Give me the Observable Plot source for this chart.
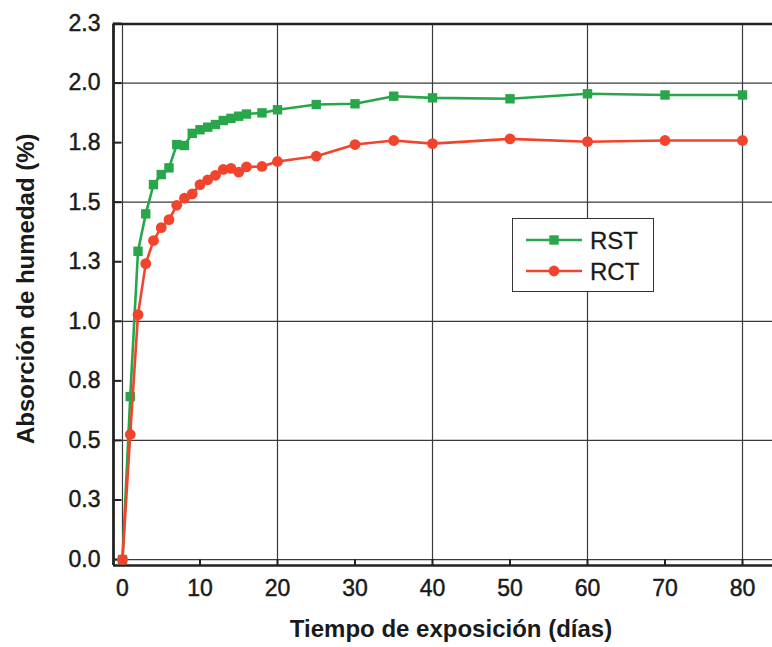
<!DOCTYPE html>
<html>
<head>
<meta charset="utf-8">
<script src="https://cdn.jsdelivr.net/npm/d3@7"></script>
<script src="https://cdn.jsdelivr.net/npm/@observablehq/plot@0.6"></script>
<style>
  html, body { margin: 0; padding: 0; background: #fff; }
  #wrap { position: relative; width: 772px; height: 647px; overflow: hidden; font-family: "Liberation Sans", Arial, sans-serif; }
  #legend { position: absolute; left: 512px; top: 218px; width: 142px; height: 74px; border: 1.5px solid #333; background: #fff; box-sizing: border-box; }
  g[aria-label="x-axis tick label"] text, g[aria-label="y-axis tick label"] text { stroke: #1a1a1a; stroke-width: 0.45px; }
  #legend text { stroke: #1a1a1a; stroke-width: 0.3px; }
</style>
</head>
<body>
<div id="wrap"></div>
<script>
// ---- data ----
const days = [0, 1, 2, 3, 4, 5, 6, 7, 8, 9, 10, 11, 12, 13, 14, 15, 16, 18, 20, 25, 30, 35, 40, 50, 60, 70, 80];
const rst  = [0, 0.684, 1.294, 1.451, 1.574, 1.616, 1.644, 1.742, 1.738, 1.789, 1.804, 1.815, 1.826, 1.843, 1.852, 1.861, 1.870, 1.875, 1.888, 1.910, 1.913, 1.945, 1.938, 1.934, 1.955, 1.950, 1.950];
const rct  = [0, 0.525, 1.028, 1.242, 1.339, 1.393, 1.427, 1.487, 1.517, 1.535, 1.574, 1.594, 1.613, 1.638, 1.642, 1.626, 1.648, 1.650, 1.671, 1.693, 1.742, 1.759, 1.746, 1.766, 1.754, 1.759, 1.759];
const seriesNames = ["RST", "RCT"];
const xTicks = [0, 10, 20, 30, 40, 50, 60, 70, 80];
const xGrid = [0, 20, 40, 60, 80];
const yTicks = [0, 0.25, 0.5, 0.75, 1, 1.25, 1.5, 1.75, 2, 2.25];
const yGrid = [0, 0.5, 1, 1.5, 2];
const xTitle = "Tiempo de exposición (días)";
const yTitle = "Absorción de humedad (%)";

const colors = { RST: "#28a64a", RCT: "#f2442d" };
const xDomain = [-1.16, 83.87];
const yDomain = [-0.025, 2.248];

const rows = [];
days.forEach((d, i) => {
  rows.push({ day: d, value: rst[i], series: "RST" });
  rows.push({ day: d, value: rct[i], series: "RCT" });
});
const rstRows = rows.filter(r => r.series === "RST");
const rctRows = rows.filter(r => r.series === "RCT");

const frameColor = "#222";
const gridColor = "#3a3a3a";

const chart = Plot.plot({
  width: 772,
  height: 647,
  marginLeft: 113,
  marginRight: 0,
  marginTop: 23.5,
  marginBottom: 82,
  style: { fontFamily: "'Liberation Sans', Arial, sans-serif", fontSize: "23px", color: "#1a1a1a", background: "transparent", overflow: "visible" },
  x: { domain: xDomain, label: null },
  y: { domain: yDomain, label: null },
  marks: [
    Plot.gridX(xGrid, { stroke: gridColor, strokeOpacity: 1, strokeWidth: 1.2 }),
    Plot.gridY(yGrid, { stroke: gridColor, strokeOpacity: 1, strokeWidth: 1.2 }),
    // inward ticks
    Plot.ruleX(xTicks, { y1: yDomain[0], y2: yDomain[0] + 0.025, stroke: frameColor, strokeWidth: 2 }),
    Plot.ruleY(yTicks, { x1: xDomain[0], x2: xDomain[0] + 1.1, stroke: frameColor, strokeWidth: 2 }),
    // frame (left, top, bottom)
    Plot.ruleX([xDomain[0]], { stroke: frameColor, strokeWidth: 2.8 }),
    Plot.ruleY([yDomain[0], yDomain[1]], { stroke: frameColor, strokeWidth: 2.6 }),
    Plot.axisX({ ticks: xTicks, tickSize: 0, tickPadding: 14, label: null, tickFormat: d => String(d) }),
    Plot.axisY({ ticks: yTicks, tickSize: 0, tickPadding: 13, label: null, tickFormat: d => d.toFixed(1) }),
    // series
    Plot.line(rstRows, { x: "day", y: "value", stroke: colors.RST, strokeWidth: 2.6 }),
    Plot.dot(rstRows, { x: "day", y: "value", symbol: "square", r: 5.3, fill: colors.RST, stroke: "none" }),
    Plot.line(rctRows, { x: "day", y: "value", stroke: colors.RCT, strokeWidth: 2.6 }),
    Plot.dot(rctRows, { x: "day", y: "value", symbol: "circle", r: 5.4, fill: colors.RCT, stroke: "none" }),
    // titles
    Plot.text([xTitle], { frameAnchor: "bottom", dx: 8, dy: 64, fontSize: 24, fontWeight: "bold", fill: "#1a1a1a", lineAnchor: "middle", textAnchor: "middle" }),
    Plot.text([yTitle], { frameAnchor: "left", dx: -87, dy: -6, rotate: -90, fontSize: 24, fontWeight: "bold", fill: "#1a1a1a", lineAnchor: "middle", textAnchor: "middle" })
  ]
});

const wrap = document.getElementById("wrap");
wrap.appendChild(chart);

// legend
const legend = document.createElement("div");
legend.id = "legend";
const ns = "http://www.w3.org/2000/svg";
const svg = document.createElementNS(ns, "svg");
svg.setAttribute("width", 140);
svg.setAttribute("height", 72);
seriesNames.forEach((name, i) => {
  const cy = 21 + i * 31;
  const line = document.createElementNS(ns, "line");
  line.setAttribute("x1", 13); line.setAttribute("x2", 69);
  line.setAttribute("y1", cy); line.setAttribute("y2", cy);
  line.setAttribute("stroke", colors[name]); line.setAttribute("stroke-width", 2.6);
  svg.appendChild(line);
  let m;
  if (name === "RST") {
    m = document.createElementNS(ns, "rect");
    m.setAttribute("x", 41 - 4.7); m.setAttribute("y", cy - 4.7);
    m.setAttribute("width", 9.4); m.setAttribute("height", 9.4);
  } else {
    m = document.createElementNS(ns, "circle");
    m.setAttribute("cx", 41); m.setAttribute("cy", cy); m.setAttribute("r", 5.4);
  }
  m.setAttribute("fill", colors[name]);
  svg.appendChild(m);
  const t = document.createElementNS(ns, "text");
  t.setAttribute("x", 77); t.setAttribute("y", cy + 8.5);
  t.setAttribute("font-size", 24);
  t.setAttribute("font-family", "'Liberation Sans', Arial, sans-serif");
  t.setAttribute("fill", "#1a1a1a");
  t.textContent = name;
  svg.appendChild(t);
});
legend.appendChild(svg);
wrap.appendChild(legend);
</script>
</body>
</html>
